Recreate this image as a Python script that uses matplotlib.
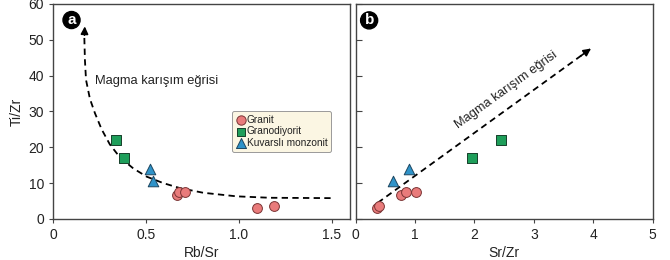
import matplotlib
matplotlib.use('Agg')
import matplotlib.pyplot as plt

plt.rcParams['font.family'] = ['Liberation Sans', 'DejaVu Sans']

# ── data
granit_rb_sr = [0.67, 0.68, 0.71, 1.10, 1.19]
granit_sr_zr = [0.77, 0.84, 1.01, 0.35, 0.39]
granit_ti_zr = [6.6, 7.6, 7.4, 3.0, 3.6]

grano_rb_sr = [0.34, 0.38]
grano_sr_zr = [2.45, 1.95]
grano_ti_zr = [22.0, 16.9]

kuv_rb_sr = [0.52, 0.54]
kuv_sr_zr = [0.89, 0.63]
kuv_ti_zr = [13.9, 10.7]

# mixing curve (panel a), traced by eye
curve_rb_sr = [0.169, 0.172, 0.178, 0.199, 0.226, 0.262, 0.306, 0.36, 0.432,
               0.504, 0.593, 0.683, 0.808, 0.988, 1.167, 1.507]
curve_ti_zr = [50.5, 44.4, 38.8, 33.5, 29.5, 25.0, 20.8, 17.2, 14.1,
               11.8, 10.0, 8.6, 7.3, 6.3, 5.9, 5.8]
# mixing trend (panel b): start / end
trend_sr_zr = [0.37, 4.0]
trend_ti_zr = [4.5, 48.0]

label_txt = 'Magma karışım eğrisi'

c_gr = '#E97B7B'; e_gr = '#7a3535'
c_gd = '#1E9E5A'; e_gd = '#16402a'
c_kv = '#2F93C9'; e_kv = '#1d4660'
frame = '#444444'
txt = '#222222'

fig = plt.figure(figsize=(6.7, 2.6), dpi=100)
ax1 = fig.add_axes([0.079, 0.158, 0.444, 0.827])
ax2 = fig.add_axes([0.531, 0.158, 0.443, 0.827])

for ax in (ax1, ax2):
    for s in ax.spines.values():
        s.set_color(frame); s.set_linewidth(1.0)
    ax.set_ylim(0, 60)
    ax.set_yticks([0, 10, 20, 30, 40, 50, 60])

dash = (3.5, 2.4)

# ── panel a
ax1.plot(curve_rb_sr, curve_ti_zr, color='k', lw=1.3, dashes=dash, zorder=2)
ax1.annotate('', xy=(0.172, 54.5), xytext=(curve_rb_sr[0], curve_ti_zr[0]),
             arrowprops=dict(arrowstyle='-|>', color='k', lw=1.2, mutation_scale=11))
ax1.scatter(granit_rb_sr, granit_ti_zr, s=50, marker='o', c=c_gr, edgecolors=e_gr,
            linewidths=0.7, zorder=3, label='Granit')
ax1.scatter(grano_rb_sr, grano_ti_zr, s=42, marker='s', c=c_gd, edgecolors=e_gd,
            linewidths=0.7, zorder=3, label='Granodiyorit')
ax1.scatter(kuv_rb_sr, kuv_ti_zr, s=58, marker='^', c=c_kv, edgecolors=e_kv,
            linewidths=0.7, zorder=3, label='Kuvarslı monzonit')
ax1.text(0.226, 38.4, label_txt, fontsize=9.3, va='center', ha='left', color=txt)
ax1.text(0.10, 55.5, 'a', fontsize=11, fontweight='bold', color='white',
         ha='center', va='center',
         bbox=dict(boxstyle='circle,pad=0.1', fc='k', ec='k'))
ax1.set_xlim(0, 1.6)
ax1.set_xticks([0, 0.5, 1.0, 1.5])
ax1.set_xticklabels(['0', '0.5', '1.0', '1.5'])
ax1.tick_params(direction='out', length=3, labelsize=10, colors=frame, labelcolor=txt)
ax1.set_xlabel('Rb/Sr', fontsize=10, labelpad=3, color=txt)
ax1.set_ylabel('Ti/Zr', fontsize=10, labelpad=3, color=txt)
leg = ax1.legend(loc='upper left', bbox_to_anchor=(0.602, 0.50), fontsize=7.3,
                 frameon=True, fancybox=True, facecolor='#FBF6E3', edgecolor='#9a9a9a',
                 handletextpad=0.1, labelspacing=0.15, borderpad=0.35,
                 handlelength=1.0, borderaxespad=0, markerscale=0.95)
leg.get_frame().set_linewidth(0.7)
leg.get_frame().set_alpha(1)
for t in leg.get_texts():
    t.set_color(txt)

# ── panel b
ax2.plot(trend_sr_zr, trend_ti_zr, color='k', lw=1.3, dashes=dash, zorder=2)
ax2.annotate('', xy=(trend_sr_zr[1], trend_ti_zr[1]),
             xytext=(trend_sr_zr[1] - 0.25, trend_ti_zr[1] - 3.0),
             arrowprops=dict(arrowstyle='-|>', color='k', lw=1.2, mutation_scale=11))
ax2.scatter(granit_sr_zr, granit_ti_zr, s=50, marker='o', c=c_gr, edgecolors=e_gr,
            linewidths=0.7, zorder=3)
ax2.scatter(grano_sr_zr, grano_ti_zr, s=42, marker='s', c=c_gd, edgecolors=e_gd,
            linewidths=0.7, zorder=3)
ax2.scatter(kuv_sr_zr, kuv_ti_zr, s=58, marker='^', c=c_kv, edgecolors=e_kv,
            linewidths=0.7, zorder=3)
ax2.text(2.54, 36.0, label_txt, fontsize=9.3, rotation=36, rotation_mode='anchor',
         ha='center', va='center', color=txt)
ax2.text(0.225, 55.4, 'b', fontsize=11, fontweight='bold', color='white',
         ha='center', va='center',
         bbox=dict(boxstyle='circle,pad=0.1', fc='k', ec='k'))
ax2.set_xlim(0, 5)
ax2.set_xticks([0, 1, 2, 3, 4, 5])
ax2.tick_params(axis='x', direction='out', length=3, labelsize=10, colors=frame,
                labelcolor=txt)
ax2.tick_params(axis='y', direction='in', length=4, labelleft=False, colors=frame)
ax2.set_xlabel('Sr/Zr', fontsize=10, labelpad=3, color=txt)

fig.savefig('out.png', dpi=100)
